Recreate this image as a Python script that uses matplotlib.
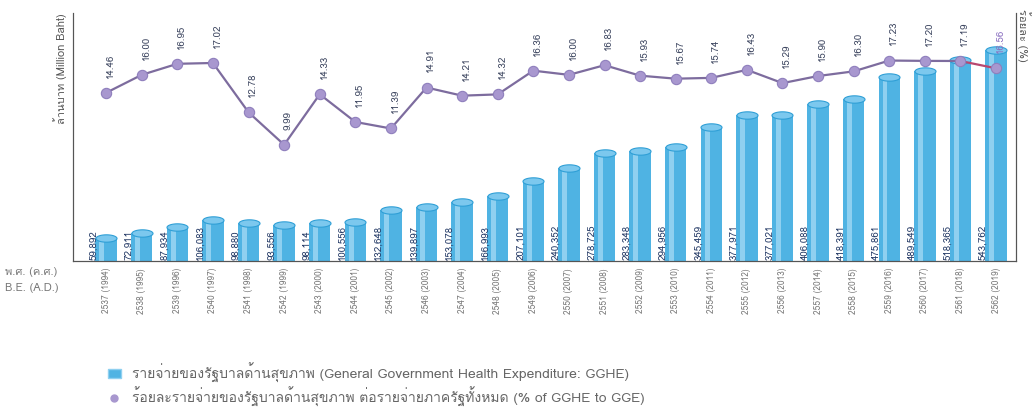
import matplotlib
matplotlib.use("Agg")
import matplotlib.pyplot as plt
from matplotlib import font_manager
from matplotlib.ft2font import FT2Font
from matplotlib.patches import Patch
from matplotlib.lines import Line2D
from matplotlib.path import Path
import numpy as np

# data
be_years = [2537, 2538, 2539, 2540, 2541, 2542, 2543, 2544, 2545, 2546, 2547, 2548, 2549,
            2550, 2551, 2552, 2553, 2554, 2555, 2556, 2557, 2558, 2559, 2560, 2561, 2562]
ad_years = [1994, 1995, 1996, 1997, 1998, 1999, 2000, 2001, 2002, 2003, 2004, 2005, 2006,
            2007, 2008, 2009, 2010, 2011, 2012, 2013, 2014, 2015, 2016, 2017, 2018, 2019]
gghe = [59892, 72911, 87934, 106083, 98880, 93556, 98114, 100556, 132648, 139897, 153078,
        166993, 207101, 240352, 278725, 283348, 294956, 345459, 377971, 377021, 406088,
        418391, 475861, 489549, 518365, 543762]
pct_gge = [14.46, 16.00, 16.95, 17.02, 12.78, 9.99, 14.33, 11.95, 11.39, 14.91, 14.21, 14.32,
           16.36, 16.00, 16.83, 15.93, 15.67, 15.74, 16.43, 15.29, 15.90, 16.30, 17.23, 17.20,
           17.19, 16.56]

legend_bar = "รายจ่ายของรัฐบาลด้านสุขภาพ (General Government Health Expenditure: GGHE)"
legend_line = "ร้อยละรายจ่ายของรัฐบาลด้านสุขภาพ ต่อรายจ่ายภาครัฐทั้งหมด (% of GGHE to GGE)"


def find_thai_font():
    # look for any installed face that has Thai glyphs
    for f in font_manager.fontManager.ttflist:
        try:
            if 0x0E23 in FT2Font(f.fname).get_charmap():
                return f.name
        except Exception:
            pass
    return None


thai = find_thai_font()
fams = ([thai] if thai else []) + ["DejaVu Sans"]
plt.rcParams["font.family"] = fams

fig = plt.figure(figsize=(10.36, 4.12), dpi=100)
ax = fig.add_axes([0.0705, 0.3665, 0.9102, 0.6015])
ax2 = ax.twinx()

x = np.arange(len(be_years))
bar_c = "#4fb3e3"
ax.bar(x, gghe, width=0.6, color=bar_c, zorder=2)
# light stripe to hint at the cylinder look
ax.bar(x - 0.12, gghe, width=0.14, color="#8fd0f0", zorder=3)
# flat ellipse as the cylinder top
t = np.linspace(0, 2 * np.pi, 40)
ell = Path(np.column_stack([np.cos(t), 0.35 * np.sin(t)]), closed=True)
ax.scatter(x, gghe, marker=ell, s=230, color="#7cc8ee", edgecolors="#2f9fd6",
           linewidths=0.8, zorder=4)
for xi, v in zip(x, gghe):
    ax.text(xi - 0.36, 3000, f"{v:,}", rotation=90, ha="center", va="bottom",
            fontsize=7, color="#243a66", zorder=5)

ax.set_xlim(-0.93, 25.56)
ax.set_ylim(0, 640000)
ax.set_yticks([])
ax.set_xticks(x)
ax.set_xticklabels([f"{b} ({a})" for b, a in zip(be_years, ad_years)], rotation=90,
                   fontsize=6, color="#777777")
ax.tick_params(axis="x", length=0, pad=5)
for a in (ax, ax2):
    a.spines["top"].set_visible(False)
    for s in ["left", "bottom", "right"]:
        a.spines[s].set_color("#555555")

ax2.plot(x[:-1], pct_gge[:-1], color="#7d6c9e", lw=1.6, zorder=6)
ax2.plot(x[-2:], pct_gge[-2:], color="#b8476f", lw=1.6, zorder=6)
ax2.scatter(x, pct_gge, s=55, color="#a897cf", edgecolors="#8f7fbd", linewidths=0.8, zorder=7)
for i, (xi, v) in enumerate(zip(x, pct_gge)):
    col = "#8a6fc0" if i == len(x) - 1 else "#3d4660"
    ax2.text(xi + 0.12, v + 1.3, f"{v:.2f}", rotation=90, ha="center", va="bottom",
             fontsize=7, color=col, zorder=8)
ax2.set_ylim(0, 21.3)
ax2.set_yticks([])

ax.set_ylabel("ล้านบาท (Million Baht)", fontsize=8, color="#555555", loc="top", labelpad=4)
fig.text(1024 / 1036, 1 - 9 / 412, "ร้อยละ (%)", fontsize=8, color="#555555",
         rotation=270, ha="center", va="top")

fig.text(0.005, 1 - 272 / 412, "พ.ศ. (ค.ศ.)", fontsize=8, color="#777777", va="center")
fig.text(0.005, 1 - 288 / 412, "B.E. (A.D.)", fontsize=8, color="#777777", va="center")

handles = [Patch(facecolor=bar_c, edgecolor="#8fd0f0"),
           Line2D([], [], marker="o", ls="none", markersize=5, color="#a897cf")]
fig.legend(handles, [legend_bar, legend_line], loc="upper left",
           bbox_to_anchor=(95 / 1036, 1 - 350 / 412), frameon=False, fontsize=10,
           labelcolor="#666666", handlelength=1.0, handletextpad=0.8, labelspacing=0.3)

fig.savefig("out.png", dpi=100)
